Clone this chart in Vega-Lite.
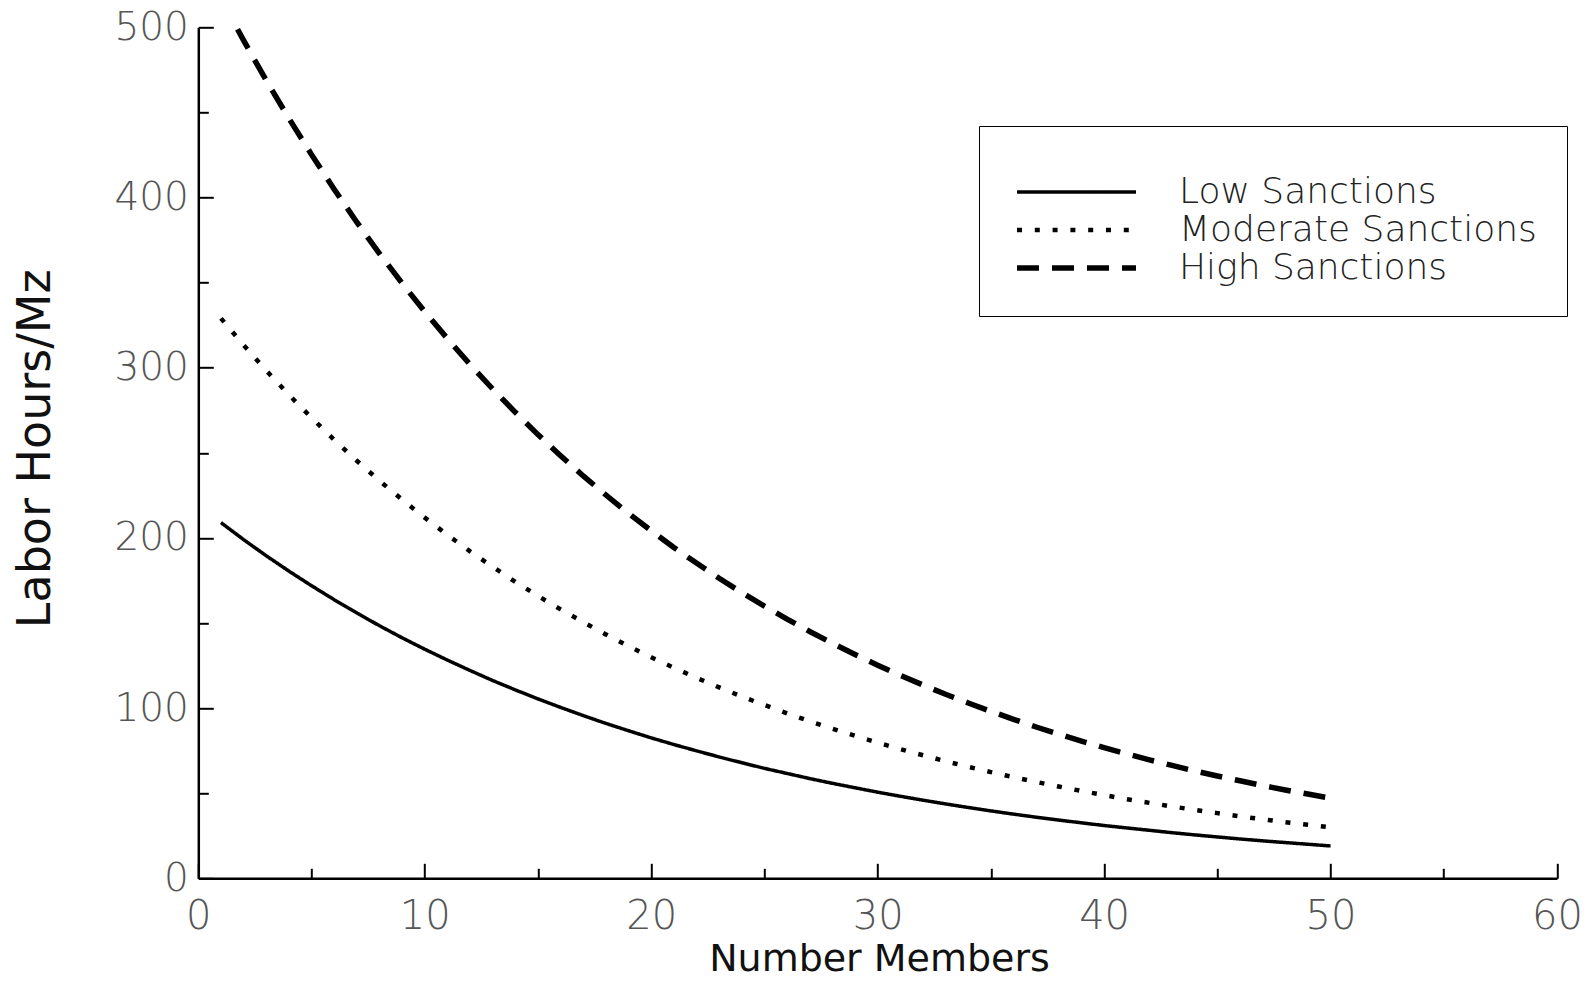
{
  "$schema": "https://vega.github.io/schema/vega-lite/v6.json",
  "autosize": {"type": "none"},
  "padding": {"left": 198.3, "top": 27.3, "right": 36.7, "bottom": 104.7},
  "width": 1358.7,
  "height": 851,
  "background": "white",
  "config": {"view": {"stroke": null}},
  "data": {"values": [
    {"n":1,"hours":209.0,"s":"Low Sanctions"},{"n":2,"hours":199.0,"s":"Low Sanctions"},{"n":3,"hours":189.5,"s":"Low Sanctions"},{"n":4,"hours":180.5,"s":"Low Sanctions"},{"n":5,"hours":171.9,"s":"Low Sanctions"},{"n":6,"hours":163.7,"s":"Low Sanctions"},{"n":7,"hours":155.9,"s":"Low Sanctions"},{"n":8,"hours":148.4,"s":"Low Sanctions"},{"n":9,"hours":141.3,"s":"Low Sanctions"},{"n":10,"hours":134.6,"s":"Low Sanctions"},
    {"n":11,"hours":128.2,"s":"Low Sanctions"},{"n":12,"hours":122.1,"s":"Low Sanctions"},{"n":13,"hours":116.2,"s":"Low Sanctions"},{"n":14,"hours":110.7,"s":"Low Sanctions"},{"n":15,"hours":105.4,"s":"Low Sanctions"},{"n":16,"hours":100.4,"s":"Low Sanctions"},{"n":17,"hours":95.6,"s":"Low Sanctions"},{"n":18,"hours":91.0,"s":"Low Sanctions"},{"n":19,"hours":86.7,"s":"Low Sanctions"},{"n":20,"hours":82.5,"s":"Low Sanctions"},
    {"n":21,"hours":78.6,"s":"Low Sanctions"},{"n":22,"hours":74.9,"s":"Low Sanctions"},{"n":23,"hours":71.3,"s":"Low Sanctions"},{"n":24,"hours":67.9,"s":"Low Sanctions"},{"n":25,"hours":64.6,"s":"Low Sanctions"},{"n":26,"hours":61.6,"s":"Low Sanctions"},{"n":27,"hours":58.6,"s":"Low Sanctions"},{"n":28,"hours":55.8,"s":"Low Sanctions"},{"n":29,"hours":53.2,"s":"Low Sanctions"},{"n":30,"hours":50.6,"s":"Low Sanctions"},
    {"n":31,"hours":48.2,"s":"Low Sanctions"},{"n":32,"hours":45.9,"s":"Low Sanctions"},{"n":33,"hours":43.7,"s":"Low Sanctions"},{"n":34,"hours":41.6,"s":"Low Sanctions"},{"n":35,"hours":39.6,"s":"Low Sanctions"},{"n":36,"hours":37.7,"s":"Low Sanctions"},{"n":37,"hours":35.9,"s":"Low Sanctions"},{"n":38,"hours":34.2,"s":"Low Sanctions"},{"n":39,"hours":32.6,"s":"Low Sanctions"},{"n":40,"hours":31.0,"s":"Low Sanctions"},
    {"n":41,"hours":29.6,"s":"Low Sanctions"},{"n":42,"hours":28.2,"s":"Low Sanctions"},{"n":43,"hours":26.8,"s":"Low Sanctions"},{"n":44,"hours":25.5,"s":"Low Sanctions"},{"n":45,"hours":24.3,"s":"Low Sanctions"},{"n":46,"hours":23.1,"s":"Low Sanctions"},{"n":47,"hours":22.0,"s":"Low Sanctions"},{"n":48,"hours":21.0,"s":"Low Sanctions"},{"n":49,"hours":20.0,"s":"Low Sanctions"},{"n":50,"hours":19.0,"s":"Low Sanctions"},
    {"n":1,"hours":329.0,"s":"Moderate Sanctions"},{"n":2,"hours":313.3,"s":"Moderate Sanctions"},{"n":3,"hours":298.3,"s":"Moderate Sanctions"},{"n":4,"hours":284.1,"s":"Moderate Sanctions"},{"n":5,"hours":270.6,"s":"Moderate Sanctions"},{"n":6,"hours":257.6,"s":"Moderate Sanctions"},{"n":7,"hours":245.3,"s":"Moderate Sanctions"},{"n":8,"hours":233.6,"s":"Moderate Sanctions"},{"n":9,"hours":222.5,"s":"Moderate Sanctions"},{"n":10,"hours":211.9,"s":"Moderate Sanctions"},
    {"n":11,"hours":201.8,"s":"Moderate Sanctions"},{"n":12,"hours":192.1,"s":"Moderate Sanctions"},{"n":13,"hours":183.0,"s":"Moderate Sanctions"},{"n":14,"hours":174.2,"s":"Moderate Sanctions"},{"n":15,"hours":165.9,"s":"Moderate Sanctions"},{"n":16,"hours":158.0,"s":"Moderate Sanctions"},{"n":17,"hours":150.5,"s":"Moderate Sanctions"},{"n":18,"hours":143.3,"s":"Moderate Sanctions"},{"n":19,"hours":136.4,"s":"Moderate Sanctions"},{"n":20,"hours":129.9,"s":"Moderate Sanctions"},
    {"n":21,"hours":123.7,"s":"Moderate Sanctions"},{"n":22,"hours":117.8,"s":"Moderate Sanctions"},{"n":23,"hours":112.2,"s":"Moderate Sanctions"},{"n":24,"hours":106.8,"s":"Moderate Sanctions"},{"n":25,"hours":101.8,"s":"Moderate Sanctions"},{"n":26,"hours":96.9,"s":"Moderate Sanctions"},{"n":27,"hours":92.3,"s":"Moderate Sanctions"},{"n":28,"hours":87.9,"s":"Moderate Sanctions"},{"n":29,"hours":83.7,"s":"Moderate Sanctions"},{"n":30,"hours":79.7,"s":"Moderate Sanctions"},
    {"n":31,"hours":75.9,"s":"Moderate Sanctions"},{"n":32,"hours":72.3,"s":"Moderate Sanctions"},{"n":33,"hours":68.8,"s":"Moderate Sanctions"},{"n":34,"hours":65.5,"s":"Moderate Sanctions"},{"n":35,"hours":62.4,"s":"Moderate Sanctions"},{"n":36,"hours":59.4,"s":"Moderate Sanctions"},{"n":37,"hours":56.6,"s":"Moderate Sanctions"},{"n":38,"hours":53.9,"s":"Moderate Sanctions"},{"n":39,"hours":51.3,"s":"Moderate Sanctions"},{"n":40,"hours":48.9,"s":"Moderate Sanctions"},
    {"n":41,"hours":46.5,"s":"Moderate Sanctions"},{"n":42,"hours":44.3,"s":"Moderate Sanctions"},{"n":43,"hours":42.2,"s":"Moderate Sanctions"},{"n":44,"hours":40.2,"s":"Moderate Sanctions"},{"n":45,"hours":38.3,"s":"Moderate Sanctions"},{"n":46,"hours":36.4,"s":"Moderate Sanctions"},{"n":47,"hours":34.7,"s":"Moderate Sanctions"},{"n":48,"hours":33.0,"s":"Moderate Sanctions"},{"n":49,"hours":31.5,"s":"Moderate Sanctions"},{"n":50,"hours":30.0,"s":"Moderate Sanctions"},
    {"n":1,"hours":517.0,"s":"High Sanctions"},{"n":2,"hours":492.3,"s":"High Sanctions"},{"n":3,"hours":468.8,"s":"High Sanctions"},{"n":4,"hours":446.5,"s":"High Sanctions"},{"n":5,"hours":425.2,"s":"High Sanctions"},{"n":6,"hours":404.9,"s":"High Sanctions"},{"n":7,"hours":385.5,"s":"High Sanctions"},{"n":8,"hours":367.1,"s":"High Sanctions"},{"n":9,"hours":349.6,"s":"High Sanctions"},{"n":10,"hours":332.9,"s":"High Sanctions"},
    {"n":11,"hours":317.1,"s":"High Sanctions"},{"n":12,"hours":301.9,"s":"High Sanctions"},{"n":13,"hours":287.5,"s":"High Sanctions"},{"n":14,"hours":273.8,"s":"High Sanctions"},{"n":15,"hours":260.7,"s":"High Sanctions"},{"n":16,"hours":248.3,"s":"High Sanctions"},{"n":17,"hours":236.4,"s":"High Sanctions"},{"n":18,"hours":225.2,"s":"High Sanctions"},{"n":19,"hours":214.4,"s":"High Sanctions"},{"n":20,"hours":204.2,"s":"High Sanctions"},
    {"n":21,"hours":194.4,"s":"High Sanctions"},{"n":22,"hours":185.2,"s":"High Sanctions"},{"n":23,"hours":176.3,"s":"High Sanctions"},{"n":24,"hours":167.9,"s":"High Sanctions"},{"n":25,"hours":159.9,"s":"High Sanctions"},{"n":26,"hours":152.3,"s":"High Sanctions"},{"n":27,"hours":145.0,"s":"High Sanctions"},{"n":28,"hours":138.1,"s":"High Sanctions"},{"n":29,"hours":131.5,"s":"High Sanctions"},{"n":30,"hours":125.2,"s":"High Sanctions"},
    {"n":31,"hours":119.2,"s":"High Sanctions"},{"n":32,"hours":113.6,"s":"High Sanctions"},{"n":33,"hours":108.1,"s":"High Sanctions"},{"n":34,"hours":103.0,"s":"High Sanctions"},{"n":35,"hours":98.1,"s":"High Sanctions"},{"n":36,"hours":93.4,"s":"High Sanctions"},{"n":37,"hours":88.9,"s":"High Sanctions"},{"n":38,"hours":84.7,"s":"High Sanctions"},{"n":39,"hours":80.6,"s":"High Sanctions"},{"n":40,"hours":76.8,"s":"High Sanctions"},
    {"n":41,"hours":73.1,"s":"High Sanctions"},{"n":42,"hours":69.6,"s":"High Sanctions"},{"n":43,"hours":66.3,"s":"High Sanctions"},{"n":44,"hours":63.1,"s":"High Sanctions"},{"n":45,"hours":60.1,"s":"High Sanctions"},{"n":46,"hours":57.3,"s":"High Sanctions"},{"n":47,"hours":54.5,"s":"High Sanctions"},{"n":48,"hours":51.9,"s":"High Sanctions"},{"n":49,"hours":49.5,"s":"High Sanctions"},{"n":50,"hours":47.1,"s":"High Sanctions"}
  ]},
  "mark": {"type": "line", "clip": true, "color": "black", "strokeCap": "butt"},
  "encoding": {
    "x": {
      "field": "n", "type": "quantitative",
      "scale": {"domain": [0, 60], "nice": false, "zero": false},
      "axis": {
        "title": "Number Members",
        "values": [0,5,10,15,20,25,30,35,40,45,50,55,60],
        "labelExpr": "datum.value % 10 === 0 ? datum.label : ''",
        "grid": false,
        "domainColor": "black", "domainWidth": 2.5,
        "tickColor": "black", "tickWidth": 2,
        "tickSize": {"condition": {"test": "datum.value % 10 === 0", "value": -15}, "value": -10},
        "labelPadding": 33,
        "labelFont": "DejaVu Sans", "labelFontSize": 40, "labelFontWeight": 200, "labelColor": "#555555",
        "labelOverlap": false, "labelFlush": false,
        "titleFont": "DejaVu Sans", "titleFontSize": 38, "titleFontWeight": "normal", "titleColor": "#111111",
        "titleX": 680.7, "titleY": 92, "titleBaseline": "alphabetic", "titleAlign": "center"
      }
    },
    "y": {
      "field": "hours", "type": "quantitative",
      "scale": {"domain": [0, 500], "nice": false},
      "axis": {
        "title": "Labor Hours/Mz",
        "values": [0,50,100,150,200,250,300,350,400,450,500],
        "labelExpr": "datum.value % 100 === 0 ? datum.label : ''",
        "grid": false,
        "domainColor": "black", "domainWidth": 2.5,
        "tickColor": "black", "tickWidth": 2,
        "tickSize": {"condition": {"test": "datum.value % 100 === 0", "value": -15}, "value": -10},
        "labelPadding": 25,
        "labelFont": "DejaVu Sans", "labelFontSize": 39, "labelFontWeight": 200, "labelColor": "#555555",
        "labelOverlap": false, "labelFlush": false,
        "titleFont": "DejaVu Sans", "titleFontSize": 46, "titleFontWeight": "normal", "titleColor": "#111111",
        "titleX": -148.3, "titleY": 421, "titleBaseline": "alphabetic", "titleAlign": "center", "titleAngle": -90
      }
    },
    "strokeDash": {
      "field": "s", "type": "nominal",
      "scale": {
        "domain": ["Low Sanctions", "Moderate Sanctions", "High Sanctions"],
        "range": [[1, 0], [5, 12.8], [22, 13]]
      },
      "legend": {
        "title": " ", "titleFontSize": 8, "titlePadding": 10,
        "orient": "none", "legendX": 780.7, "legendY": 98.7,
        "padding": 30, "rowPadding": 2,
        "strokeColor": "black", "fillColor": "white",
        "symbolType": "stroke", "symbolSize": 14161, "symbolStrokeWidth": 4, "symbolStrokeColor": "black",
        "symbolOffset": 5,
        "clipHeight": 36,
        "labelOffset": 40, "labelLimit": 600,
        "labelFont": "DejaVu Sans", "labelFontSize": 36, "labelFontWeight": 200, "labelColor": "#222222"
      }
    },
    "strokeWidth": {
      "field": "s", "type": "nominal",
      "scale": {
        "domain": ["Low Sanctions", "Moderate Sanctions", "High Sanctions"],
        "range": [3.5, 5.5, 5]
      },
      "legend": null
    }
  }
}
